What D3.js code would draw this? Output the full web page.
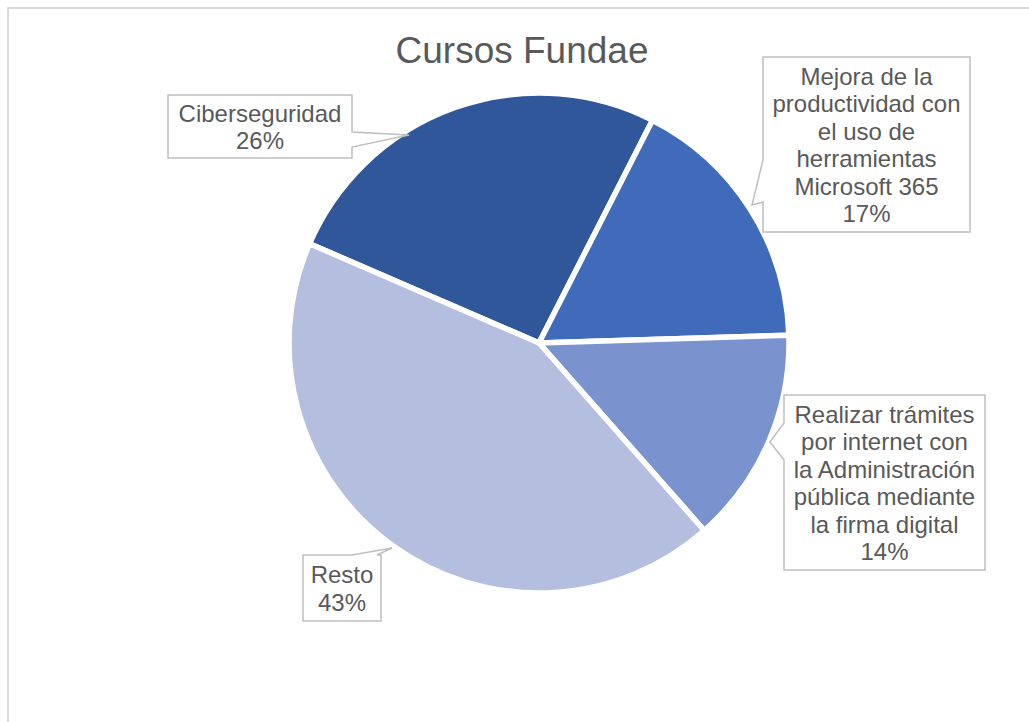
<html>
<meta charset="utf-8">
<script src="https://d3js.org/d3.v7.min.js"></script>
<style>
  body { margin: 0; background: #fff; }
  text { font-family: "Liberation Sans", Arial, sans-serif; fill: #595959; }
</style>
<body>
<div id="chartContainer"></div>
<script>
// chart data
var categories = ["Ciberseguridad",
                  "Mejora de la productividad con el uso de herramientas Microsoft 365",
                  "Realizar trámites por internet con la Administración pública mediante la firma digital",
                  "Resto"];
var values = [26, 17, 14, 43];
var colors = ["#30579A", "#3F6BBA", "#7A93CF", "#B4BEDF"];
var labelLines = [
  ["Ciberseguridad"],
  ["Mejora de la", "productividad con", "el uso de", "herramientas", "Microsoft 365"],
  ["Realizar trámites", "por internet con", "la Administración", "pública mediante", "la firma digital"],
  ["Resto"]
];

var WIDTH = 1029, HEIGHT = 722;
var CX = 539, CY = 343, R = 250;
var START = -66.6 * Math.PI / 180;

// callout layout: box + wedge (side, base from a to b, tip)
var callouts = [
  {x: 168, y: 95, w: 184, h: 63, side: "right", a: 132, b: 147, tip: [409, 135]},
  {x: 763, y: 57, w: 207, h: 175, side: "left", a: 160, b: 202, tip: [752, 205]},
  {x: 784, y: 395, w: 201, h: 175, side: "left", a: 423, b: 460, tip: [770, 442]},
  {x: 303, y: 555, w: 78, h: 66, side: "top", a: 352, b: 377, tip: [392, 548]}
];

var svg = d3.select("#chartContainer").append("svg")
    .attr("width", WIDTH).attr("height", HEIGHT);

svg.append("rect")
    .attr("x", 8).attr("y", 8)
    .attr("width", 1040).attr("height", 740)
    .style("fill", "none").style("stroke", "#D9D9D9").style("stroke-width", 2);

svg.append("text")
    .attr("x", 522).attr("y", 63)
    .attr("text-anchor", "middle")
    .style("font-size", "37px")
    .text("Cursos Fundae");

var pie = d3.pie().sort(null)
    .startAngle(START).endAngle(START + 2 * Math.PI)
    .value(function (d) { return d; });
var arc = d3.arc().innerRadius(0).outerRadius(R);

var g = svg.append("g").attr("transform", "translate(" + CX + "," + CY + ")");
g.selectAll("path")
    .data(pie(values))
    .enter()
    .append("path")
    .attr("d", arc)
    .style("fill", function (d, i) { return colors[i]; })
    .style("stroke", "#fff")
    .style("stroke-width", 5.5)
    .style("stroke-linejoin", "round");

// callout outline with pointer
function calloutPath(c) {
  var x0 = c.x, y0 = c.y, x1 = c.x + c.w, y1 = c.y + c.h;
  var p = [];
  if (c.side == "right") {
    p = [[x0, y0], [x1, y0], [x1, c.a], c.tip, [x1, c.b], [x1, y1], [x0, y1]];
  } else if (c.side == "left") {
    p = [[x0, y0], [x1, y0], [x1, y1], [x0, y1], [x0, c.b], c.tip, [x0, c.a]];
  } else {
    p = [[x0, y0], [c.a, y0], c.tip, [c.b, y0], [x1, y0], [x1, y1], [x0, y1]];
  }
  return "M" + p.map(function (q) { return q.join(","); }).join("L") + "Z";
}

var total = d3.sum(values);
callouts.forEach(function (c, i) {
  svg.append("path")
      .attr("d", calloutPath(c))
      .style("fill", "#fff")
      .style("stroke", "#BFBFBF")
      .style("stroke-width", 1.5);

  var lines = labelLines[i].concat([Math.round(values[i] / total * 100) + "%"]);
  var lh = 27.4;
  var firstBase = c.y + c.h / 2 - (lines.length - 1) * lh / 2 + 9;
  svg.append("g").selectAll("text")
      .data(lines)
      .enter()
      .append("text")
      .attr("x", c.x + c.w / 2)
      .attr("y", function (d, k) { return firstBase + k * lh; })
      .attr("text-anchor", "middle")
      .style("font-size", "24px")
      .text(function (d) { return d; });
});
</script>
</body>
</html>
